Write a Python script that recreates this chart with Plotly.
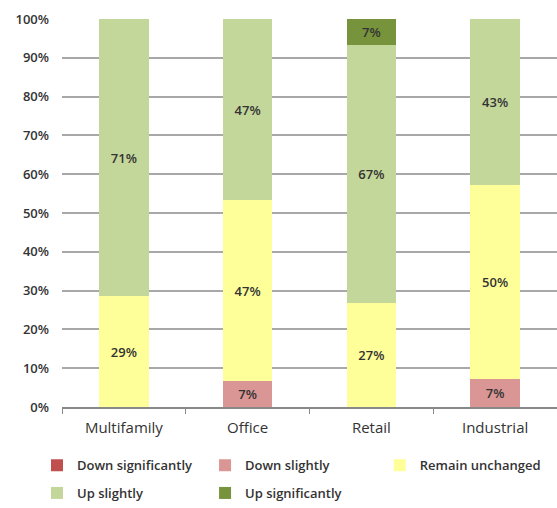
import plotly.graph_objects as go

categories = ["Multifamily", "Office", "Retail", "Industrial"]
series_names = ["Down significantly", "Down slightly", "Remain unchanged", "Up slightly", "Up significantly"]
down_significantly = [0, 0, 0, 0]
down_slightly = [0, 6.7, 0, 7.1]
remain_unchanged = [28.6, 46.6, 26.7, 50.0]
up_slightly = [71.4, 46.7, 66.6, 42.9]
up_significantly = [0, 0, 6.7, 0]
y_ticks = [0, 10, 20, 30, 40, 50, 60, 70, 80, 90, 100]
y_tick_labels = ["0%", "10%", "20%", "30%", "40%", "50%", "60%", "70%", "80%", "90%", "100%"]

colors = ["#C0504D", "#DA9694", "#FFFF99", "#C4D79B", "#77933C"]
values = [down_significantly, down_slightly, remain_unchanged, up_slightly, up_significantly]
legend_ids = ["legend", "legend2", "legend3", "legend4", "legend5"]
# legend placement (paper coords): column x, row y
legend_pos = [(-0.0505, -0.15), (0.289, -0.15), (0.642, -0.15), (-0.0505, -0.222), (0.289, -0.222)]

FONT = "Open Sans"
fig = go.Figure()
for name, vals, col, lg in zip(series_names, values, colors, legend_ids):
    fig.add_trace(go.Bar(
        x=categories, y=vals, name=name,
        marker=dict(color=col, line=dict(width=0)),
        text=[f"{v:.0f}%" if v > 0 else "" for v in vals],
        textposition="inside", insidetextanchor="middle", textangle=0,
        textfont=dict(family=FONT, size=13, color="#333333", weight=600),
        constraintext="none",
        legend=lg,
    ))

legend_common = dict(
    orientation="h", xanchor="left", yanchor="middle",
    font=dict(family=FONT, size=13, color="#333333", weight=600),
    itemwidth=30, bgcolor="rgba(0,0,0,0)",
)

legends = {}
for lg, (lx, ly) in zip(legend_ids, legend_pos):
    legends[lg] = dict(x=lx, y=ly, **legend_common)

fig.update_layout(
    width=557, height=508,
    margin=dict(l=62, r=0, t=19, b=95),
    paper_bgcolor="white", plot_bgcolor="white",
    barmode="stack", bargap=0.6,
    showlegend=True,
    xaxis=dict(
        range=[-0.5, 3.5], showgrid=False,
        showline=True, linecolor="#888888", linewidth=1.5,
        ticks="outside", tickson="boundaries", ticklen=5, tickcolor="#888888",
        tickfont=dict(family=FONT, size=15, color="#333333"),
        ticklabelstandoff=6,
    ),
    yaxis=dict(
        range=[0, 100], tickvals=y_ticks, ticktext=y_tick_labels,
        showgrid=True, gridcolor="#A8A8A8", gridwidth=1.5,
        zeroline=False, showline=False,
        tickfont=dict(family=FONT, size=13, color="#333333", weight=600),
        ticklabelstandoff=12,
    ),
    **legends,
)

fig.write_html("out.html")
